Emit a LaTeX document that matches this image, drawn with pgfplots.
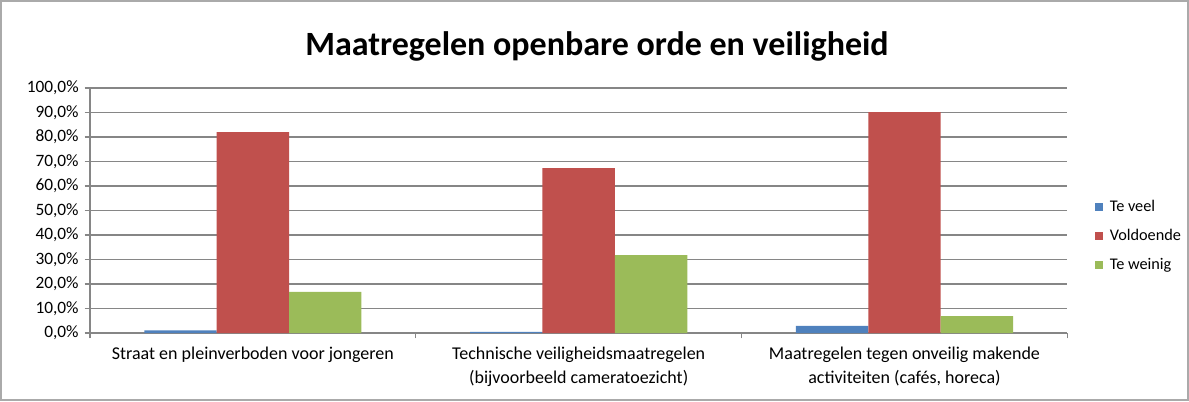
\documentclass[border=0pt]{standalone}
\usepackage{pgfplots}
\pgfplotsset{compat=1.18}
\usepackage{fontspec}
\setmainfont{Carlito}
\definecolor{cblue}{HTML}{4F81BD}
\definecolor{cred}{HTML}{C0504D}
\definecolor{cgreen}{HTML}{9BBB59}
\definecolor{gridc}{HTML}{868686}
\begin{document}
\begin{tikzpicture}[x=0.75pt,y=0.75pt]
\useasboundingbox (0,0) rectangle (1189,401);
\draw[gridc!70, line width=0.8pt] (1,1) rectangle (1188,400);
\node[font=\bfseries\fontsize{25.5}{30}\selectfont] at (597,355) {Maatregelen openbare orde en veiligheid};
\begin{axis}[
  at={(67.5pt,51pt)}, anchor=south west,
  scale only axis, width=733pt, height=183.75pt,
  ymin=0, ymax=100,
  xmin=-0.5, xmax=2.5,
  ybar=0pt, bar width=0.2222,
  ytick={0,10,...,100},
  yticklabel={\pgfmathprintnumber[fixed,fixed zerofill,precision=1,use comma]{\tick}\%},
  /pgf/number format/assume math mode=true,
  ymajorgrids, grid style={gridc, line width=0.8pt},
  axis x line*=bottom, axis y line*=left,
  axis line style={gridc, line width=1pt},
  xtick={0,1,2},
  xticklabels={Straat en pleinverboden voor jongeren, {Technische veiligheidsmaatregelen\\(bijvoorbeeld cameratoezicht)}, {Maatregelen tegen onveilig makende\\activiteiten (cafés, horeca)}},
  xticklabel style={align=center, font=\fontsize{13.5}{18}\selectfont, yshift=-3pt},
  yticklabel style={font=\fontsize{13}{15}\selectfont, xshift=-1pt},
  major x tick style={draw=none},
  minor xtick={-0.5,0.5,1.5,2.5},
  minor x tick style={gridc, line width=1pt},
  minor tick length=4pt,
  major tick length=4pt,
  tick align=outside,
  y tick style={gridc, line width=1pt},
  legend style={at={(1.028,0.396)}, anchor=west, draw=none, font=\fontsize{12.2}{14}\selectfont, row sep=8pt, legend cell align=left, inner xsep=0pt},
  legend image code/.code={\fill[#1] (0cm,-0.1cm) rectangle (0.2cm,0.1cm); \path (0.32cm,0);},
  enlarge x limits=false,
  clip=false,
]
\addplot[fill=cblue, draw=none] coordinates {(0,1.1) (1,0.5) (2,2.9)};
\addplot[fill=cred, draw=none] coordinates {(0,82.0) (1,67.3) (2,90.2)};
\addplot[fill=cgreen, draw=none] coordinates {(0,16.8) (1,31.8) (2,6.9)};
\legend{Te veel, Voldoende, Te weinig}
\end{axis}
\end{tikzpicture}
\end{document}
